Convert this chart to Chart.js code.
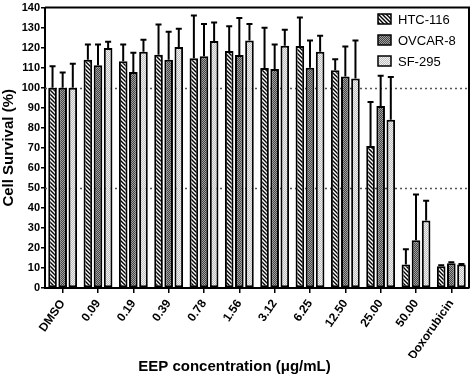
<!DOCTYPE html>
<html><head><meta charset="utf-8">
<script src="https://cdn.jsdelivr.net/npm/chart.js@4/dist/chart.umd.min.js"></script>
<style>html,body{margin:0;padding:0;background:#fff}canvas{display:block}</style>
</head><body>
<canvas id="c" width="472" height="376"></canvas>
<script>
const categories = ["DMSO","0.09","0.19","0.39","0.78","1.56","3.12","6.25","12.50","25.00","50.00","Doxorubicin"];
const seriesNames = ["HTC-116","OVCAR-8","SF-295"];
const htc116 = [100,114,113.2,116.5,114.7,118.3,109.9,120.8,108.7,70.9,11.7,10.9];
const htc116Err = [10.7,7.6,8.4,15,21.3,12.4,20,14.2,5.5,22,7.6,0.4];
const ovcar8 = [100,111.2,107.9,113.9,115.7,116.3,109.4,110,105.6,90.9,23.9,12.4];
const ovcar8Err = [7.6,10.4,9.6,14.1,16.1,18.5,12.2,13.6,15,15.1,22.8,0.4];
const sf295 = [100,119.8,118,120.3,123.3,123.6,121,118,104.6,84,33.7,11.7];
const sf295Err = [12,3.2,6,9.2,9.2,8.2,8,8,19,21.3,9.9,0.3];
const yTicks = {min:0,max:140,step:10};
const refLines = [50,100];

function makePattern(kind){
  const t=document.createElement('canvas'); t.width=4; t.height=4;
  const g=t.getContext('2d');
  if(kind==='hatch'){
    g.fillStyle='#fff'; g.fillRect(0,0,4,4);
    g.strokeStyle='#000'; g.lineWidth=1.4;
    g.beginPath(); g.moveTo(-1,-1); g.lineTo(5,5); g.moveTo(-1,3); g.lineTo(1,5); g.moveTo(3,-1); g.lineTo(5,1); g.stroke();
  } else {
    const a = kind==='dark' ? '#444' : '#bdbdbd';
    const b = kind==='dark' ? '#a0a0a0' : '#f2f2f2';
    for(let y=0;y<4;y++)for(let x=0;x<4;x++){g.fillStyle=((x+y)%2)?a:b;g.fillRect(x,y,1,1);}
  }
  return document.getElementById('c').getContext('2d').createPattern(t,'repeat');
}
const patterns=[makePattern('hatch'),makePattern('dark'),makePattern('light')];
const values=[htc116,ovcar8,sf295];
const errs=[htc116Err,ovcar8Err,sf295Err];

const FONT='"Liberation Sans", Arial, sans-serif';

const decor={
  id:'decor',
  beforeDatasetsDraw(chart){
    const {ctx,chartArea:a,scales:{y}}=chart;
    ctx.save();
    ctx.strokeStyle='#555'; ctx.lineWidth=1.5; ctx.setLineDash([2,3]);
    refLines.forEach(v=>{const py=Math.round(y.getPixelForValue(v))+0.5;ctx.beginPath();ctx.moveTo(a.left,py);ctx.lineTo(a.right,py);ctx.stroke();});
    ctx.restore();
  },
  afterDatasetsDraw(chart){
    const {ctx,chartArea:a,scales:{y}}=chart;
    ctx.save();
    ctx.strokeStyle='#000'; ctx.lineWidth=2; ctx.setLineDash([]);
    chart.data.datasets.forEach((ds,i)=>{
      const meta=chart.getDatasetMeta(i);
      meta.data.forEach((bar,j)=>{
        const top=y.getPixelForValue(ds.data[j]+ds.err[j]);
        ctx.beginPath(); ctx.moveTo(bar.x,bar.y); ctx.lineTo(bar.x,top);
        ctx.moveTo(bar.x-3,top); ctx.lineTo(bar.x+3,top); ctx.stroke();
      });
    });
    ctx.beginPath(); ctx.moveTo(a.left,a.top); ctx.lineTo(a.right,a.top); ctx.lineTo(a.right,a.bottom); ctx.stroke();
    ctx.font='13px '+FONT; ctx.textBaseline='middle'; ctx.textAlign='left';
    const rows=[19,40,61];
    chart.data.datasets.forEach((ds,i)=>{
      const bx=378, by=rows[i]-5;
      ctx.fillStyle=ds.backgroundColor; ctx.fillRect(bx,by,13,10);
      ctx.lineWidth=1.5; ctx.strokeRect(bx,by,13,10);
      ctx.fillStyle='#000'; ctx.fillText(ds.label,bx+20,rows[i]+1);
    });
    ctx.restore();
  }
};

new Chart(document.getElementById('c'),{
  type:'bar',
  data:{labels:categories,datasets:seriesNames.map((n,i)=>({label:n,data:values[i],err:errs[i],backgroundColor:patterns[i],borderColor:'#000',borderWidth:2,borderSkipped:false,categoryPercentage:0.86,barPercentage:0.85}))},
  options:{
    responsive:false,animation:false,devicePixelRatio:1,
    layout:{padding:{top:0,right:3,left:0,bottom:0}},
    plugins:{legend:{display:false},tooltip:{enabled:false},
      title:{display:true,position:'bottom',text:'EEP concentration (μg/mL)',font:{family:FONT,size:15,weight:'bold'},color:'#000',padding:{top:0,bottom:0}}
    },
    scales:{
      x:{offset:true,
        grid:{display:true,drawOnChartArea:false,drawTicks:true,tickLength:5,color:'#000',lineWidth:1.5,offset:false},
        border:{display:true,color:'#000',width:2},
        ticks:{font:{family:FONT,size:12,weight:'bold'},color:'#000',minRotation:55,maxRotation:55,padding:4},
        afterFit(s){s.height=70;}
      },
      y:{min:yTicks.min,max:yTicks.max,
        grid:{display:true,drawOnChartArea:false,drawTicks:true,tickLength:4,color:'#000',lineWidth:1.5},
        border:{display:true,color:'#000',width:2},
        ticks:{stepSize:yTicks.step,font:{family:FONT,size:11,weight:'bold'},color:'#000',padding:1},
        title:{display:true,text:'Cell Survival (%)',font:{family:FONT,size:15,weight:'bold'},color:'#000',padding:{top:0,bottom:2}},
        afterFit(s){s.width=45;}
      }
    }
  },
  plugins:[decor]
});
</script>
</body></html>
